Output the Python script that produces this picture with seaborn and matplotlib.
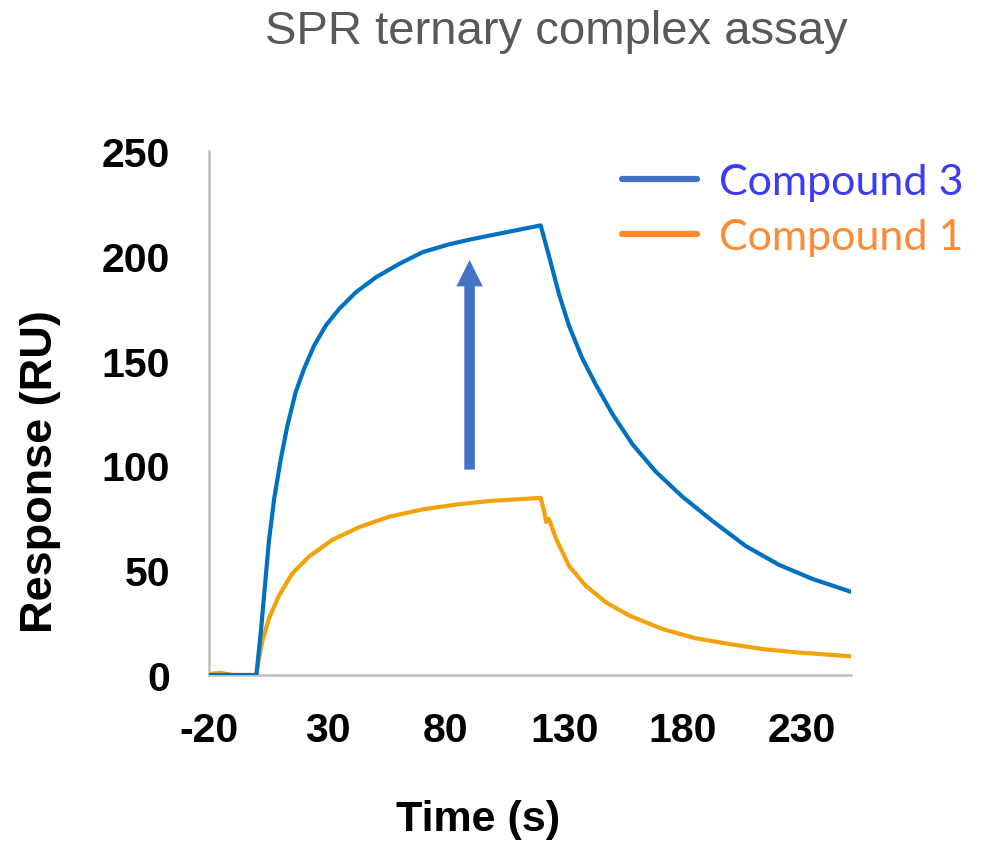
import matplotlib
matplotlib.use("Agg")
import matplotlib.pyplot as plt
from matplotlib.lines import Line2D
import seaborn as sns
import pandas as pd

# ---- data ----
time_c3 = [-20, -10, 0, 2, 5.3, 7.5, 10.3, 13.1, 16.6, 20.1, 24.3, 29.3, 34.9, 42, 50.4, 60.2,
           70.1, 81.4, 91.2, 105.3, 120,
           123.6, 127.8, 132, 137.6, 143.3, 150.3, 158.8, 168.6, 179.9, 192.5, 206.6, 220.7,
           234.8, 251]
resp_c3 = [0, 0, 0, 22, 64, 84, 103, 119, 135, 146, 157, 166.7, 174.6, 182.6, 189.7, 196.1,
           201.7, 205.5, 208, 211.2, 214.5,
           199.5, 181.5, 166.5, 151, 138.5, 124.5, 110, 97, 85, 73.5, 61.5, 52.5,
           45.8, 39.7]

time_c1 = [-20, -15, -10, 0, 0.5, 2.5, 5.3, 9.6, 15.2, 22.2, 32.1, 43.3, 56, 70.1, 84.2, 98.2,
           110, 120, 121.5, 122.3, 123.5, 126.5, 132, 139, 147.5, 157.5, 171.5, 185.5, 199.5,
           213.5, 228, 251]
resp_c1 = [0.5, 1, 0, 0, 4, 16, 27, 38, 48.5, 56.5, 64.5, 70.5, 75.5, 79, 81.3, 83,
           83.8, 84.5, 78, 73, 74.4, 65, 52, 42.6, 34.7, 28.3, 21.9, 17.5, 14.8,
           12.4, 10.8, 8.9]

series_names = ["Compound 3", "Compound 1"]
x_ticks = [-20, 30, 80, 130, 180, 230]
y_ticks = [0, 50, 100, 150, 200, 250]
arrow_x = 90
arrow_y0 = 98
arrow_y1 = 198

title = "SPR ternary complex assay"
xlabel = "Time (s)"
ylabel = "Response (RU)"

# ---- styling ----
sns.set_theme(style="white")
plt.rcParams["font.family"] = ["Liberation Sans", "DejaVu Sans"]
plt.rcParams["axes.unicode_minus"] = False

line_colors = {"Compound 3": "#0070c0", "Compound 1": "#f4a20c"}
legend_line_colors = {"Compound 3": "#4472c4", "Compound 1": "#ff8a2a"}
legend_text_colors = {"Compound 3": "#3c3cf2", "Compound 1": "#ff8a33"}

df = pd.concat([
    pd.DataFrame({"time": time_c3, "resp": resp_c3, "series": series_names[0]}),
    pd.DataFrame({"time": time_c1, "resp": resp_c1, "series": series_names[1]}),
], ignore_index=True)

fig = plt.figure(figsize=(9.83, 8.45), dpi=100)
ax = fig.add_axes([209 / 983, 1 - 676 / 845, (851 - 209) / 983, (676 - 152) / 845])

# orange first so blue sits on top
sns.lineplot(data=df[df.series == "Compound 1"], x="time", y="resp", color=line_colors["Compound 1"],
             lw=3, ax=ax, legend=False, sort=False, zorder=2)
sns.lineplot(data=df[df.series == "Compound 3"], x="time", y="resp", color=line_colors["Compound 3"],
             lw=3, ax=ax, legend=False, sort=False, zorder=3)

ax.set_xlim(-20, 251)
ax.set_ylim(0, 250)
ax.set_xticks(x_ticks)
ax.set_yticks(y_ticks)
ax.tick_params(axis="both", length=0, labelsize=29.5, colors="black")
ax.tick_params(axis="y", pad=28)
ax.tick_params(axis="x", pad=26)
for lab in ax.get_xticklabels() + ax.get_yticklabels():
    lab.set_fontweight("bold")

for s in ["top", "right"]:
    ax.spines[s].set_visible(False)
for s in ["left", "bottom"]:
    ax.spines[s].set_color("#bfbfbf")
    ax.spines[s].set_linewidth(1.8)

ax.set_xlabel(xlabel, fontsize=31, fontweight="bold", color="black")
ax.set_ylabel(ylabel, fontsize=32.5, fontweight="bold", color="black")
ax.xaxis.label.set_va("center")
ax.yaxis.label.set_va("center")
ax.xaxis.set_label_coords((478 - 209) / 642, (676 - 820) / 524)
ax.yaxis.set_label_coords((40 - 209) / 642, (676 - 472) / 524)

# arrow
ax.annotate("", xy=(arrow_x, arrow_y1), xytext=(arrow_x, arrow_y0),
            arrowprops=dict(arrowstyle="simple,head_width=1.0,head_length=1.0,tail_width=0.4",
                            mutation_scale=19, color="#4472c4", shrinkA=0, shrinkB=0, lw=0),
            zorder=4)

# legend
handles = [Line2D([0], [0], color=legend_line_colors[n], lw=4.5) for n in series_names]
leg = fig.legend(handles, series_names, loc="upper left",
                 bbox_to_anchor=(622 / 983, 1 - 164 / 845), frameon=False,
                 prop={"family": "Lato", "size": 31}, handlelength=1.75, handletextpad=0.5,
                 labelspacing=0.4, borderpad=0, borderaxespad=0)
for txt, n in zip(leg.get_texts(), series_names):
    txt.set_color(legend_text_colors[n])

fig.text(556 / 983, 1 - 32 / 845, title, ha="center", va="center", fontsize=34, color="#595959")

fig.savefig("out.png", dpi=100)
